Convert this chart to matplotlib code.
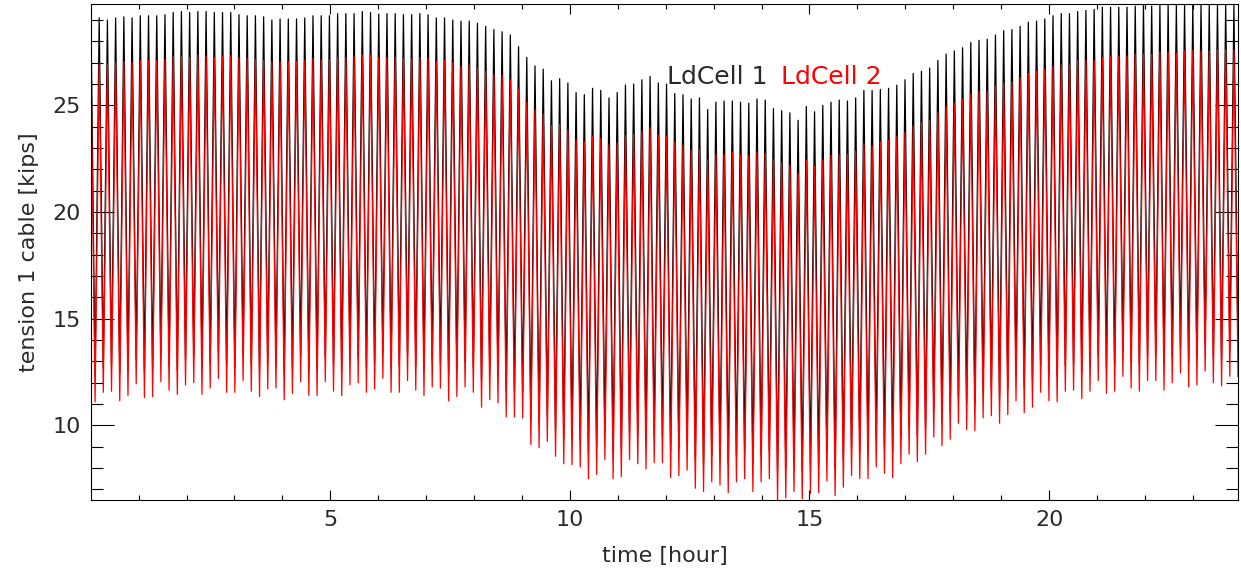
import numpy as np
import matplotlib
matplotlib.use("Agg")
import matplotlib.pyplot as plt
from matplotlib.ticker import MultipleLocator

# ciclos de carga (um valor por ciclo, 140 ciclos)
period = 0.1716        # hora por ciclo
t_first = 0.005

# picos e vales, LdCell 1 (preto)
peak_1 = [
    29.1, 29.1, 29.0, 29.1, 29.15, 29.1, 29.2, 29.2, 29.2, 29.25,
    29.35, 29.4, 29.35, 29.4, 29.4, 29.35, 29.35, 29.35, 29.25, 29.2,
    29.2, 29.15, 29.0, 29.05, 29.05, 29.05, 29.1, 29.2, 29.2, 29.2,
    29.3, 29.3, 29.3, 29.4, 29.35, 29.28, 29.3, 29.3, 29.25, 29.25,
    29.3, 29.25, 29.1, 29.1, 29.0, 28.95, 28.95, 28.85, 28.7, 28.55,
    28.45, 28.3, 27.75, 27.25, 26.85, 26.7, 26.15, 26.25, 26.05, 25.6,
    25.5, 25.8, 25.7, 25.35, 25.6, 25.95, 26.0, 26.2, 26.35, 26.05,
    26.0, 25.55, 25.5, 25.3, 25.35, 24.8, 25.15, 25.2, 25.2, 25.15,
    25.1, 25.3, 25.25, 24.85, 24.75, 24.65, 24.3, 24.95, 24.7, 25.0,
    25.15, 25.25, 25.2, 25.35, 25.7, 25.7, 25.75, 25.8, 25.95, 26.2,
    26.5, 26.6, 26.75, 27.1, 27.4, 27.55, 27.7, 27.95, 28.05, 28.1,
    28.3, 28.5, 28.55, 28.7, 28.9, 28.95, 29.05, 29.2, 29.3, 29.3,
    29.4, 29.45, 29.5, 29.6, 29.6, 29.6, 29.6, 29.65, 29.7, 29.65,
    29.7, 29.7, 29.7, 29.7, 29.75, 29.7, 29.7, 29.75, 29.75, 29.7,
]
valley_1 = [
    12.3, 12.7, 12.8, 12.4, 12.6, 13.1, 12.5, 12.6, 13.2, 12.8,
    12.6, 13.1, 13.2, 12.7, 12.9, 13.4, 12.8, 12.7, 13.3, 12.8,
    12.6, 12.9, 12.9, 12.4, 12.7, 13.2, 12.6, 12.6, 13.2, 12.8,
    12.6, 13.1, 13.2, 12.7, 12.9, 13.4, 12.7, 12.8, 13.3, 12.8,
    12.6, 13.0, 12.9, 12.4, 12.6, 13.0, 12.7, 12.1, 12.4, 12.3,
    11.6, 11.6, 11.6, 10.3, 10.2, 10.5, 9.8, 9.4, 9.4, 9.3,
    8.8, 9.0, 9.7, 8.8, 8.9, 9.7, 9.5, 9.2, 9.5, 9.5,
    8.8, 8.9, 9.2, 8.4, 8.2, 8.6, 8.5, 8.2, 8.6, 8.8,
    8.2, 8.6, 8.8, 7.9, 8.0, 8.2, 7.9, 8.1, 8.1, 8.7,
    8.0, 8.4, 8.9, 8.8, 8.8, 9.3, 9.0, 8.8, 9.4, 9.9,
    9.5, 9.9, 10.7, 10.3, 10.6, 11.3, 11.0, 11.0, 11.6, 11.7,
    11.3, 11.7, 12.4, 11.8, 12.1, 12.8, 12.4, 12.3, 12.8, 12.9,
    12.5, 12.8, 13.3, 12.7, 12.8, 13.5, 13.0, 12.8, 13.3, 13.3,
    12.9, 13.2, 13.7, 13.0, 13.1, 13.8, 13.2, 13.1, 13.5, 13.5,
]

# picos e vales, LdCell 2 (vermelho)
peak_2 = [
    26.95, 26.95, 26.9, 27.0, 27.05, 27.0, 27.1, 27.1, 27.1, 27.15,
    27.3, 27.3, 27.25, 27.35, 27.3, 27.25, 27.3, 27.35, 27.25, 27.2,
    27.15, 27.1, 27.05, 27.05, 27.05, 27.05, 27.1, 27.2, 27.15, 27.15,
    27.25, 27.25, 27.3, 27.35, 27.35, 27.25, 27.25, 27.25, 27.2, 27.2,
    27.25, 27.2, 27.05, 27.1, 27.0, 26.85, 26.9, 26.75, 26.6, 26.45,
    26.4, 26.2, 25.75, 25.15, 24.8, 24.6, 24.05, 24.1, 23.85, 23.4,
    23.3, 23.55, 23.45, 23.15, 23.25, 23.6, 23.65, 23.8, 23.95, 23.6,
    23.55, 23.3, 23.15, 22.9, 22.95, 22.45, 22.7, 22.7, 22.8, 22.7,
    22.65, 22.8, 22.75, 22.45, 22.3, 22.2, 21.8, 22.45, 22.15, 22.45,
    22.65, 22.7, 22.7, 22.85, 23.2, 23.1, 23.3, 23.35, 23.55, 23.75,
    24.05, 24.2, 24.3, 24.65, 24.95, 25.1, 25.3, 25.55, 25.65, 25.65,
    25.9, 26.05, 26.1, 26.3, 26.5, 26.6, 26.7, 26.85, 26.9, 26.9,
    27.1, 27.1, 27.1, 27.25, 27.3, 27.3, 27.3, 27.4, 27.4, 27.4,
    27.5, 27.5, 27.45, 27.55, 27.6, 27.55, 27.55, 27.6, 27.6, 27.6,
]
valley_2 = [
    11.1, 11.55, 11.6, 11.15, 11.4, 11.95, 11.3, 11.35, 12.05, 11.65,
    11.45, 11.9, 12.0, 11.45, 11.75, 12.2, 11.55, 11.55, 12.1, 11.6,
    11.35, 11.7, 11.75, 11.2, 11.5, 12.05, 11.4, 11.4, 12.05, 11.6,
    11.4, 11.9, 12.0, 11.55, 11.7, 12.2, 11.55, 11.55, 12.1, 11.65,
    11.4, 11.8, 11.75, 11.15, 11.35, 11.8, 11.55, 10.85, 11.2, 11.05,
    10.4, 10.4, 10.35, 9.1, 8.95, 9.25, 8.55, 8.2, 8.15, 8.05,
    7.5, 7.7, 8.4, 7.5, 7.6, 8.4, 8.2, 7.95, 8.25, 8.25,
    7.55, 7.65, 7.9, 7.05, 6.9, 7.35, 7.2, 6.85, 7.35, 7.5,
    6.9, 7.35, 7.5, 6.5, 6.6, 6.9, 6.55, 6.8, 6.85, 7.4,
    6.7, 7.1, 7.65, 7.5, 7.5, 8.05, 7.75, 7.55, 8.2, 8.65,
    8.3, 8.65, 9.45, 9.05, 9.35, 10.1, 9.8, 9.75, 10.35, 10.45,
    10.1, 10.5, 11.15, 10.6, 10.85, 11.55, 11.15, 11.1, 11.6, 11.65,
    11.25, 11.6, 12.1, 11.5, 11.6, 12.3, 11.75, 11.6, 12.1, 12.1,
    11.65, 12.0, 12.45, 11.8, 11.9, 12.55, 12.0, 11.85, 12.3, 12.3,
]

labels = ["LdCell 1", "LdCell 2"]
colors = ["black", "red"]
text_color = "#2a2a2a"


def zigzag(peaks, valleys):
    # pico, vale, pico, vale ... no tempo de cada ciclo
    n = len(peaks)
    t_peak = t_first + period * np.arange(n)
    t = np.empty(2 * n)
    y = np.empty(2 * n)
    t[0::2] = t_peak
    t[1::2] = t_peak + period / 2
    y[0::2] = peaks
    y[1::2] = valleys
    return t, y


plt.rcParams['font.family'] = ['DejaVu Sans']

fig = plt.figure(figsize=(12.41, 5.81), dpi=100)
ax = fig.add_axes([0.0733, 0.1394, 0.9243, 0.8537])

t1, y1 = zigzag(peak_1, valley_1)
t2, y2 = zigzag(peak_2, valley_2)
ax.plot(t1, y1, color=colors[0], lw=0.9)
ax.plot(t2, y2, color=colors[1], lw=0.9)

ax.set_xlim(t1[0], t1[-1])
ax.set_ylim(min(valley_2), max(peak_1))

ax.xaxis.set_major_locator(MultipleLocator(5))
ax.xaxis.set_minor_locator(MultipleLocator(1))
ax.yaxis.set_major_locator(MultipleLocator(5))
ax.yaxis.set_minor_locator(MultipleLocator(1))

ax.tick_params(axis='x', which='major', direction='in', length=7.2, width=0.8,
               top=True, labelsize=16, pad=7, labelcolor=text_color)
ax.tick_params(axis='x', which='minor', direction='in', length=3.6, width=0.8, top=True)
ax.tick_params(axis='y', which='major', direction='in', length=16.5, width=0.8,
               right=True, labelsize=16, pad=7, labelcolor=text_color)
ax.tick_params(axis='y', which='minor', direction='in', length=8.3, width=0.8, right=True)
for s in ax.spines.values():
    s.set_linewidth(0.8)

ax.set_xlabel("time [hour]", fontsize=16, labelpad=12, color=text_color)
ax.set_ylabel("tension 1 cable [kips]", fontsize=16, labelpad=10, color=text_color)

fig.text(0.5375, 0.855, labels[0], color=text_color, fontsize=18)
fig.text(0.6293, 0.855, labels[1], color=colors[1], fontsize=18)

fig.savefig("out.png", dpi=100)
